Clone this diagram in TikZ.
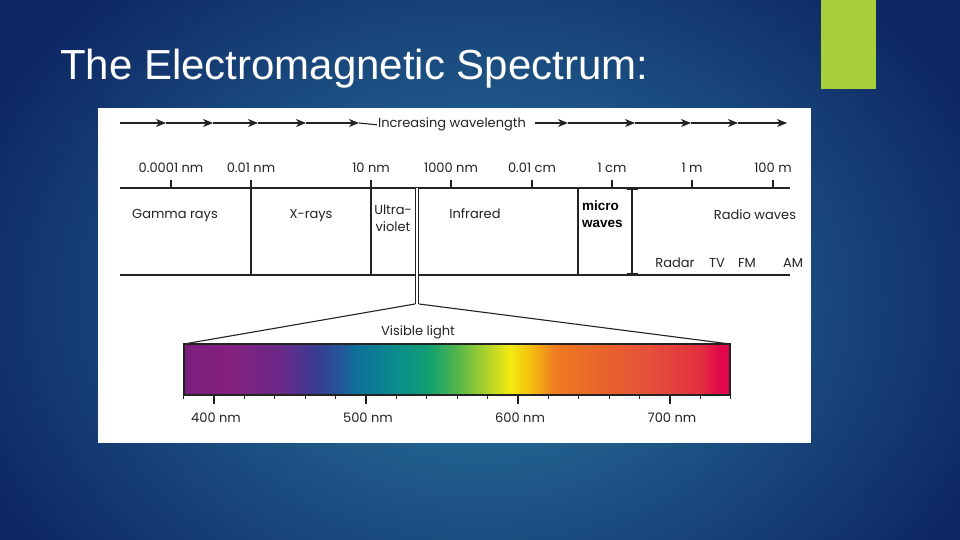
\documentclass[tikz,border=0pt]{standalone}
\usepackage{fontspec}
\setmainfont{Liberation Sans}
\newfontfamily\geofont{Poppins}
\usepackage{tikz}
\usetikzlibrary{arrows.meta,positioning,calc}
\definecolor{slidenavy}{RGB}{14,40,100}
\definecolor{slideteal}{RGB}{44,126,164}
\definecolor{slidelime}{RGB}{168,206,58}
\definecolor{inkgray}{RGB}{35,35,35}
\definecolor{vA}{RGB}{122,31,126}
\definecolor{vB}{RGB}{133,32,127}
\definecolor{vC}{RGB}{106,42,136}
\definecolor{vD}{RGB}{58,58,146}
\definecolor{vE}{RGB}{31,92,154}
\definecolor{vF}{RGB}{13,111,154}
\definecolor{vG}{RGB}{10,143,138}
\definecolor{vH}{RGB}{18,160,112}
\definecolor{vI}{RGB}{90,184,72}
\definecolor{vJ}{RGB}{184,214,40}
\definecolor{vK}{RGB}{242,234,16}
\definecolor{vL}{RGB}{245,192,16}
\definecolor{vM}{RGB}{239,122,32}
\definecolor{vN}{RGB}{233,101,42}
\definecolor{vO}{RGB}{229,80,58}
\definecolor{vP}{RGB}{226,48,64}
\definecolor{vQ}{RGB}{224,8,74}
\pgfdeclarehorizontalshading{visiblebar}{100bp}{color(0bp)=(vA); color(25bp)=(vA);
  color(29.2bp)=(vB); color(33.8bp)=(vC); color(37bp)=(vD); color(39.75bp)=(vE);
  color(40.65bp)=(vF); color(44.8bp)=(vG); color(47.5bp)=(vH); color(50.25bp)=(vI);
  color(53bp)=(vJ); color(54.85bp)=(vK); color(56.7bp)=(vL); color(59bp)=(vM);
  color(63.1bp)=(vN); color(67.65bp)=(vO); color(72.25bp)=(vP); color(74.1bp)=(vQ);
  color(75bp)=(vQ); color(100bp)=(vQ)}

\begin{document}
\begin{tikzpicture}[x=1pt, y=-1pt, >={Stealth[length=10pt,width=8pt,inset=3pt]},
  font=\geofont\fontsize{13}{15}\selectfont]
  \tikzset{scaleline/.style={draw=inkgray, line width=1.1pt},
    scaletext/.style={anchor=base, inner sep=1pt, text=inkgray},
    bandtext/.style={anchor=base, inner sep=1pt, align=center, text=inkgray},
    boldtext/.style={anchor=north west, inner sep=0pt, align=left, text=black, font=\bfseries\fontsize{13.5}{16.5}\selectfont}}
  \useasboundingbox (0,0) rectangle (960,540);
  % slide background
  \begin{scope}
    \clip (0,0) rectangle (960,540);
    \fill[slidenavy] (0,0) rectangle (960,540);
    \shade[inner color=slideteal, outer color=slidenavy] (480,300) ellipse (540 and 420);
  \end{scope}
  \fill[slidelime] (821,0) rectangle (876,89);
  \node[anchor=base west, inner sep=0pt, text=white, font=\fontsize{42}{48}\selectfont] (title) at (60,80) {The Electromagnetic Spectrum:};
  \fill[white] (98,108) rectangle (811,443);

  % increasing wavelength
  \node[scaletext] (incr) at (452,128) {Increasing wavelength};
  \foreach \a/\b in {120/166,166/213,213/258,258/306,306/359}
    \draw[scaleline, ->] (\a,123) -- (\b,123);
  \draw[scaleline] (359,123) -- (incr.west);
  \foreach \a/\b in {535/568,568/635,635/691,691/738,738/787}
    \draw[scaleline, ->] (\a,123) -- (\b,123);

  % wavelength scale
  \draw[scaleline] (120,188) -- (790,188);
  \draw[scaleline] (120,275) -- (790,275);
  \foreach \x/\txt [count=\i] in {171/0.0001 nm,251/0.01 nm,371/10 nm,451/1000 nm,532/0.01 cm,612/1 cm,692/1 m,773/100 m}{
    \node[scaletext] (s\i) at (\x,173) {\txt};
    \draw[scaleline] (\x,180) -- (\x,188);
  }
  \draw[scaleline] (251,188) -- (251,275);
  \draw[scaleline] (371,188) -- (371,275);
  \draw[scaleline] (578,188) -- (578,275);
  \draw[scaleline, {Bar[width=11pt]}-{Bar[width=11pt]}] (632,188.5) -- (632,274.5);
  \draw[scaleline, double distance=2.4pt, line width=0.9pt] (417,188) -- (417,304);

  % bands
  \node[bandtext] (gamma) at (175,218) {Gamma rays};
  \node[bandtext] (xray) at (311,218) {X-rays};
  \node[bandtext, anchor=north] (uv) at (393,204) {Ultra-\\[2pt]violet};
  \node[bandtext] (ir) at (475,218) {Infrared};
  \node[boldtext] (micro) at (582,201) {micro\\waves};
  \node[bandtext] (radio) at (755,219) {Radio waves};
  \node[bandtext] (radar) at (675,267) {Radar};
  \node[bandtext] (tv) at (717,267) {TV};
  \node[bandtext] (fm) at (747,267) {FM};
  \node[bandtext] (am) at (793,267) {AM};

  % visible light
  \coordinate (split) at (417,304);
  \node[bandtext] (vislabel) at (418,335) {Visible light};
  \path[shading=visiblebar] (184,344) rectangle (730,395);
  \coordinate (barnw) at (184,344);
  \coordinate (barne) at (730,344);
  \draw[scaleline] (184,344) rectangle (730,395);
  \draw[scaleline] ($(split)+(-2,0)$) -- (barnw);
  \draw[scaleline] ($(split)+(2,0)$) -- (barne);
  \foreach \n in {380,400,...,740}
    \draw[scaleline] ({214+(\n-400)*1.52},395) -- ({214+(\n-400)*1.52},399);
  \foreach \n in {400,500,600,700}{
    \draw[scaleline] ({214+(\n-400)*1.52},395) -- ({214+(\n-400)*1.52},404);
    \node[scaletext] (nm\n) at ({216+(\n-400)*1.52},422) {\n{} nm};
  }
\end{tikzpicture}
\end{document}
